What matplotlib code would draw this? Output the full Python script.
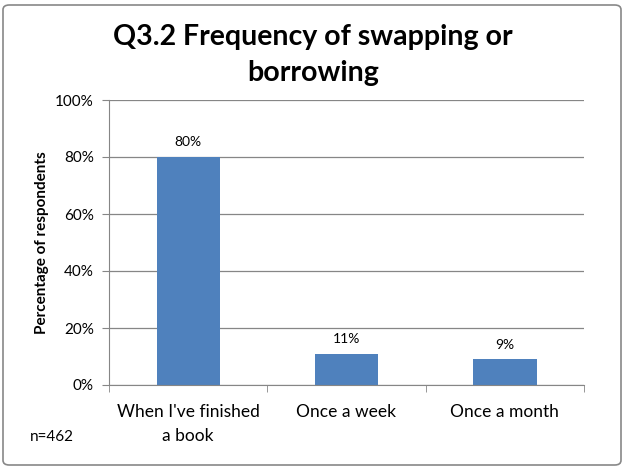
import numpy as np
import matplotlib
matplotlib.use('Agg')
import matplotlib.pyplot as plt
from matplotlib.patches import FancyBboxPatch

categories = ["When I've finished\na book", 'Once a week', 'Once a month']
values = [80, 11, 9]
bar_labels = ['80%', '11%', '9%']
y_ticks = [0, 20, 40, 60, 80, 100]

plt.rcParams['font.family'] = ['Lato', 'DejaVu Sans']

fig = plt.figure(figsize=(6.26, 4.70), dpi=100)
ax = fig.add_axes([109 / 626, 1 - 385 / 470, (584 - 109) / 626, 285 / 470])

x = np.arange(len(categories))
ax.bar(x, values, width=0.4, color='#4f81bd', zorder=2)
for xi, v, lab in zip(x, values, bar_labels):
    ax.text(xi, v + 3, lab, ha='center', va='bottom', fontsize=10)

ax.set_xlim(-0.5, len(categories) - 0.5)
ax.set_ylim(0, 100)
ax.set_yticks(y_ticks)
ax.set_yticklabels([f'{t}%' for t in y_ticks], fontsize=11)
ax.yaxis.grid(True, color='#868686', linewidth=0.9, zorder=0)

ax.set_xticks(x)
ax.set_xticklabels(categories, fontsize=12.5, linespacing=1.55)
ax.tick_params(axis='x', length=0, pad=14)
# category separator ticks
ax.set_xticks(np.arange(-0.5, len(categories)), minor=True)
ax.tick_params(axis='x', which='minor', length=5, color='#868686')
ax.tick_params(axis='y', length=5, color='#868686', pad=6)

for s in ['top', 'right']:
    ax.spines[s].set_visible(False)
for s in ['left', 'bottom']:
    ax.spines[s].set_color('#868686')

ax.set_ylabel('Percentage of respondents', fontsize=11, fontweight='bold',
              labelpad=4)

fig.text(0.5, 1 - 55 / 470, 'Q3.2 Frequency of swapping or\nborrowing',
         ha='center', va='center', fontsize=20.5, fontweight='bold',
         linespacing=1.45)
fig.text(30 / 626, 1 - 437 / 470, 'n=462', ha='left', va='center', fontsize=11)

border = FancyBboxPatch((3 / 626, 5 / 470), 618 / 626, 460 / 470,
                        boxstyle='round,pad=0,rounding_size=0.01',
                        transform=fig.transFigure, fill=False,
                        edgecolor='#888888', linewidth=1.2)
fig.patches.append(border)

fig.savefig('out.png', dpi=100)
